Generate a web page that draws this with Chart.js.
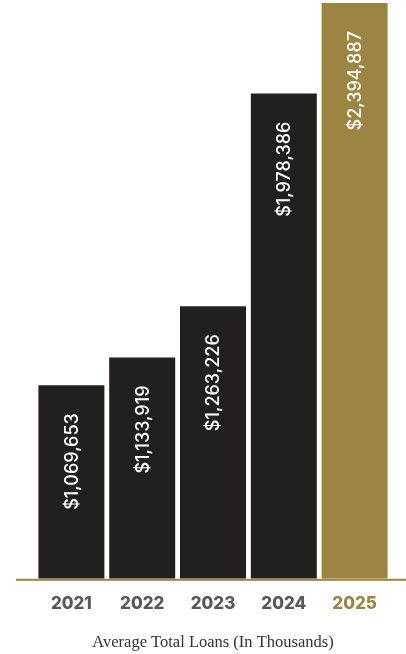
<!DOCTYPE html>
<html>
<head>
<meta charset="utf-8">
<style>
  html, body { margin: 0; padding: 0; background: #ffffff; }
  #wrap { width: 406px; height: 654px; position: relative; }
</style>
<script src="https://cdn.jsdelivr.net/npm/chart.js@4/dist/chart.umd.min.js"></script>
</head>
<body>
<div id="wrap"><canvas id="loansChart"></canvas></div>
<script>
// ── Data ──────────────────────────────────────────────────────
const years      = ['2021', '2022', '2023', '2024', '2025'];
const avgLoans   = [1069653, 1133919, 1263226, 1978386, 2394887];
const barColors  = ['#221f1f', '#221f1f', '#221f1f', '#221f1f', '#9c8442'];
const tickColors = ['#58585a', '#58585a', '#58585a', '#58585a', '#9c8442'];

const GOLD = '#9c8442';

// ── Plugins ───────────────────────────────────────────────────
// gold rule under the bars, running to the right edge
const baseRule = {
  id: 'baseRule',
  afterDatasetsDraw(chart) {
    const { ctx, chartArea } = chart;
    ctx.save();
    ctx.fillStyle = GOLD;
    ctx.fillRect(16, chartArea.bottom, chart.width - 16, 2);
    ctx.restore();
  },
};

// vertical dollar labels inside each bar
const barLabels = {
  id: 'barLabels',
  afterDatasetsDraw(chart) {
    const { ctx } = chart;
    const meta = chart.getDatasetMeta(0);
    ctx.save();
    ctx.fillStyle = '#ffffff';
    ctx.font = '500 18px Inter';
    ctx.textAlign = 'right';
    ctx.textBaseline = 'middle';
    meta.data.forEach((bar, i) => {
      const text = '$' + avgLoans[i].toLocaleString('en-US');
      ctx.save();
      ctx.translate(bar.x, bar.y + 28);
      ctx.rotate(-Math.PI / 2);
      ctx.fillText(text, 0, 1);
      ctx.restore();
    });
    ctx.restore();
  },
};

// ── Chart ─────────────────────────────────────────────────────
new Chart(document.getElementById('loansChart'), {
  type: 'bar',
  data: {
    labels: years,
    datasets: [{
      data:            avgLoans,
      backgroundColor: barColors,
      borderWidth:     0,
      barPercentage:   0.932,
      categoryPercentage: 1,
    }],
  },
  options: {
    responsive:          true,
    maintainAspectRatio: false,
    animation:           false,
    layout: { padding: { left: 36, right: 16, top: 0, bottom: 0 } },
    plugins: {
      legend:  { display: false },
      tooltip: { enabled: false },
    },
    scales: {
      x: {
        grid:   { display: false, drawTicks: false },
        border: { display: false },
        ticks: {
          padding: 15,
          color:   (c) => tickColors[c.index],
          font:    { family: 'Inter', size: 17, weight: '800' },
        },
        title: {
          display: true,
          text:    'Average Total Loans (In Thousands)',
          color:   '#333333',
          font:    { family: 'Liberation Serif', size: 16.5 },
          padding: { top: 4, bottom: 1 },
        },
      },
      y: {
        type:    'logarithmic',
        display: false,
        min:     711000,
        max:     2410000,
      },
    },
  },
  plugins: [baseRule, barLabels],
});
</script>
</body>
</html>
